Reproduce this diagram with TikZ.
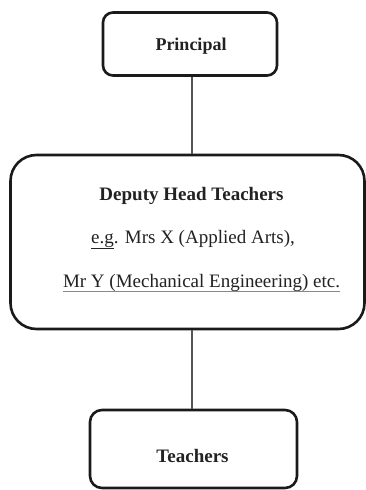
\documentclass[tikz,border=0pt]{standalone}
\usepackage{fontspec}
\setmainfont{Liberation Serif}
\definecolor{boxline}{HTML}{1A1A1A}
\definecolor{connline}{HTML}{555555}
\definecolor{txt}{HTML}{222222}
\definecolor{ulgreen}{HTML}{6E9A6E}
\begin{document}
\begin{tikzpicture}[x=1pt,y=-1pt,
  orgbox/.style={draw=boxline, line width=2.6pt, fill=white},
  conn/.style={draw=connline, line width=1.8pt},
  lbl/.style={inner sep=0pt, anchor=base, text=txt, font=\fontsize{19}{22}\selectfont}]
\useasboundingbox (0,0) rectangle (366,490);
% boxes
\node[orgbox, rounded corners=10pt, minimum width=174pt, minimum height=63pt] (principal) at (190,44) {};
\node[orgbox, rounded corners=26pt, minimum width=354pt, minimum height=174pt] (deputy) at (187.5,242) {};
\node[orgbox, rounded corners=12pt, minimum width=207pt, minimum height=78pt] (teachers) at (193.5,449) {};
% axis for connectors
\coordinate (axis) at (192,0);
\draw[conn] (principal.south -| axis) -- (deputy.north -| axis);
\draw[conn] (deputy.south -| axis) -- (teachers.north -| axis);
% texts
\node[lbl, font=\fontsize{18}{21}\selectfont\bfseries] (ptext) at (191,50) {Principal};
\node[lbl, font=\fontsize{19}{22}\selectfont\bfseries] (dh1) at (191.5,200) {Deputy Head Teachers};
\node[lbl] (dh2) at (193,243) {\underline{e.g}. Mrs X (Applied Arts),};
\node[lbl] (dh3) at (201.5,287) {Mr Y (Mechanical Engineering) etc.};
\draw[ulgreen, line width=0.8pt] ([yshift=-4.5pt]dh3.base west) -- ([yshift=-4.5pt]dh3.base east);
\node[lbl, font=\fontsize{19}{22}\selectfont\bfseries] (ttext) at (192.5,462) {Teachers};
\end{tikzpicture}
\end{document}
